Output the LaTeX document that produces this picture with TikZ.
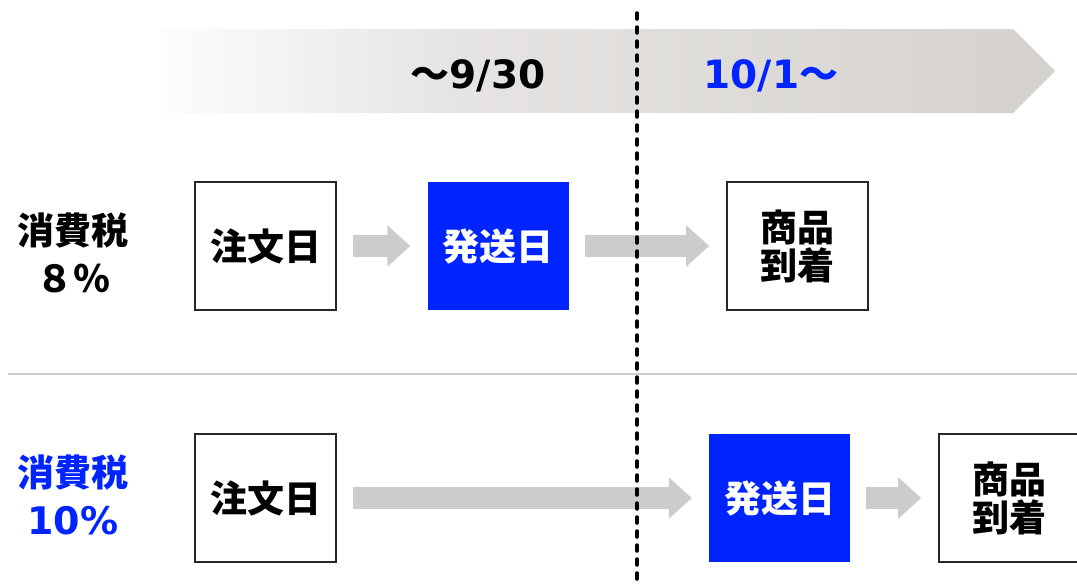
\documentclass[tikz,border=0pt]{standalone}
\usepackage{fontspec}
\newfontfamily\cjk{Noto Sans CJK JP}
\newfontfamily\lat{DejaVu Sans}
\usetikzlibrary{arrows.meta}
\definecolor{cblue}{RGB}{0,36,255}
\definecolor{agray}{RGB}{204,204,204}
\definecolor{bgray}{RGB}{212,209,206}
\definecolor{mgray}{RGB}{231,229,227}
\definecolor{lgray}{RGB}{253,253,253}
\pgfdeclarehorizontalshading{bannershade}{100bp}{color(0bp)=(lgray); color(25bp)=(lgray); color(41bp)=(mgray); color(75bp)=(bgray); color(100bp)=(bgray)}
\tikzset{
  x=1pt, y=-1pt,
  whitebox/.style={draw=black!85, line width=1.6pt, fill=white, minimum width=141pt, minimum height=128pt, inner sep=0pt, align=center, font={\cjk\bfseries\fontsize{37}{38}\selectfont}},
  bluebox/.style={fill=cblue, minimum width=141pt, minimum height=128pt, inner sep=0pt, text=white, font={\cjk\bfseries\fontsize{37}{38}\selectfont}},
  blockarrow/.style={draw=agray, line width=22pt, -{Triangle[length=23pt 0 0, width=40pt 0 0]}, shorten <=16pt, shorten >=17pt},
  rowlabel/.style={align=center, inner sep=0pt, font={\cjk\bfseries\fontsize{37}{48}\selectfont}},
  datelabel/.style={inner sep=0pt, font={\bfseries\fontsize{39}{40}\selectfont}},
}
\begin{document}
\begin{tikzpicture}
\useasboundingbox (0,0) rectangle (1077,584);
\clip (0,0) rectangle (1077,584);
% banner
\shade[shading=bannershade] (160,29) -- (1013,29) -- (1055,71) -- (1013,113) -- (160,113) -- cycle;
\node[datelabel] (d1) at (478,76) {{\cjk ～}{\lat 9/30}};
\node[datelabel, text=cblue] (d2) at (771,76) {{\lat 10/1}{\cjk ～}};
% separator
\coordinate (sepL) at (8,374);
\coordinate (sepR) at (1077,374);
\draw[agray, line width=1.5pt] (sepL) -- (sepR);
% row 1
\node[rowlabel] (lab1) at (73,253) {消費税\\８％};
\node[whitebox] (o1) at (265.5,246) {注文日};
\node[bluebox] (s1) at (498,246) {発送日};
\node[whitebox] (a1) at (797.5,246) {商品\\到着};
\draw[blockarrow] (o1) -- (s1);
\draw[blockarrow] (s1) -- (a1);
% row 2
\node[rowlabel, text=cblue] (lab2) at (73,495) {消費税\\{\lat\fontsize{38}{48}\selectfont 10\%}};
\node[whitebox] (o2) at (265.5,498) {注文日};
\node[bluebox] (s2) at (779.5,498) {発送日};
\node[whitebox] (a2) at (1009.5,498) {商品\\到着};
\draw[blockarrow] (o2) -- (s2);
\draw[blockarrow] (s2) -- (a2);
% dashed divider
\coordinate (dtop) at (637,13);
\coordinate (dbot) at (637,590);
\draw[black, line width=3.5pt, line cap=round, dash pattern=on 6pt off 8pt] (dtop) -- (dbot);
\end{tikzpicture}
\end{document}
